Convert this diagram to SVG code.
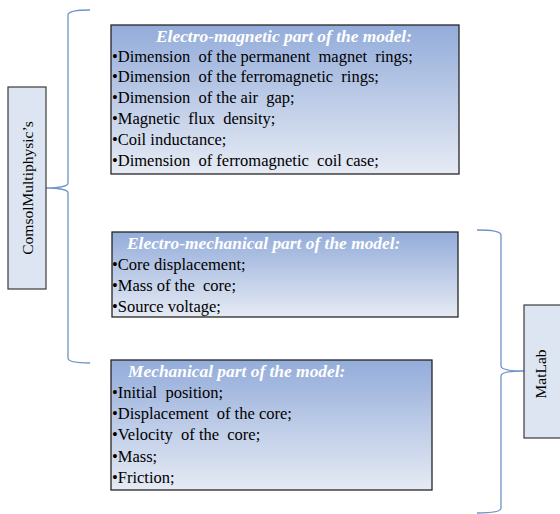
<svg xmlns="http://www.w3.org/2000/svg" width="560" height="514" viewBox="0 0 560 514">
<defs>
<linearGradient id="g" x1="0" y1="0" x2="0" y2="1">
<stop offset="0" stop-color="#93acda"/>
<stop offset="1" stop-color="#e6ebf4"/>
</linearGradient>
<style>
.box{fill:url(#g);stroke:#262626;stroke-width:1.3}
.side{fill:#dce5f1;stroke:#3a3a3a;stroke-width:1.2}
text{white-space:pre}
.t{font-family:"Liberation Serif","Times New Roman",serif;font-size:16.5px;fill:#000}
.s{font-family:"Liberation Serif","Times New Roman",serif;font-size:15.5px;fill:#000}
.h{font-family:"Liberation Serif","Times New Roman",serif;font-size:17.4px;font-weight:bold;font-style:italic;fill:#fff}
.br{fill:none;stroke:#6f93c8;stroke-width:1.3}
</style>
</defs>
<rect width="560" height="514" fill="#fff"/>
<g id="connectors">
<path class="br" d="M90,10 C78,10 68,11 68,15 L68,183 C68,186 60,188 46,188 C60,188 68,190 68,193 L68,358 C68,362 78,363 90,363"/>
<path class="br" d="M477,230 C489,230 501,231 501,235 L501,366 C501,369 509,371 524,371 C509,371 501,373 501,376 L501,508 C501,512 489,513 477,513"/>
</g>
<g id="comsol">
<rect class="side" x="8" y="87" width="38" height="202"/>
<text class="s" transform="translate(33,188) rotate(-90)" text-anchor="middle">ComsolMultiphysic’s</text>
</g>
<g id="matlab">
<rect class="side" x="524" y="305" width="40" height="133"/>
<text class="s" transform="translate(546,374) rotate(-90)" text-anchor="middle">MatLab</text>
</g>
<g id="electromagnetic">
<rect class="box" x="111" y="25" width="348" height="149"/>
<text class="h" x="284" y="42" text-anchor="middle">Electro-magnetic part of the model:</text>
<text class="t" x="112" y="62" xml:space="preserve">•Dimension  of the permanent  magnet  rings;</text>
<text class="t" x="112" y="82" xml:space="preserve">•Dimension  of the ferromagnetic  rings;</text>
<text class="t" x="112" y="103" xml:space="preserve">•Dimension  of the air  gap;</text>
<text class="t" x="112" y="124" xml:space="preserve">•Magnetic  flux  density;</text>
<text class="t" x="112" y="145" xml:space="preserve">•Coil inductance;</text>
<text class="t" x="112" y="166" xml:space="preserve">•Dimension  of ferromagnetic  coil case;</text>
</g>
<g id="electromechanical">
<rect class="box" x="112" y="232" width="346" height="85"/>
<text class="h" x="127" y="249">Electro-mechanical part of the model:</text>
<text class="t" x="112" y="270" xml:space="preserve">•Core displacement;</text>
<text class="t" x="112" y="291" xml:space="preserve">•Mass of the  core;</text>
<text class="t" x="112" y="312" xml:space="preserve">•Source voltage;</text>
</g>
<g id="mechanical">
<rect class="box" x="111" y="360" width="321" height="130"/>
<text class="h" x="128" y="377">Mechanical part of the model:</text>
<text class="t" x="112" y="398" xml:space="preserve">•Initial  position;</text>
<text class="t" x="112" y="419" xml:space="preserve">•Displacement  of the core;</text>
<text class="t" x="112" y="440" xml:space="preserve">•Velocity  of the  core;</text>
<text class="t" x="112" y="462" xml:space="preserve">•Mass;</text>
<text class="t" x="112" y="483" xml:space="preserve">•Friction;</text>
</g>
</svg>
